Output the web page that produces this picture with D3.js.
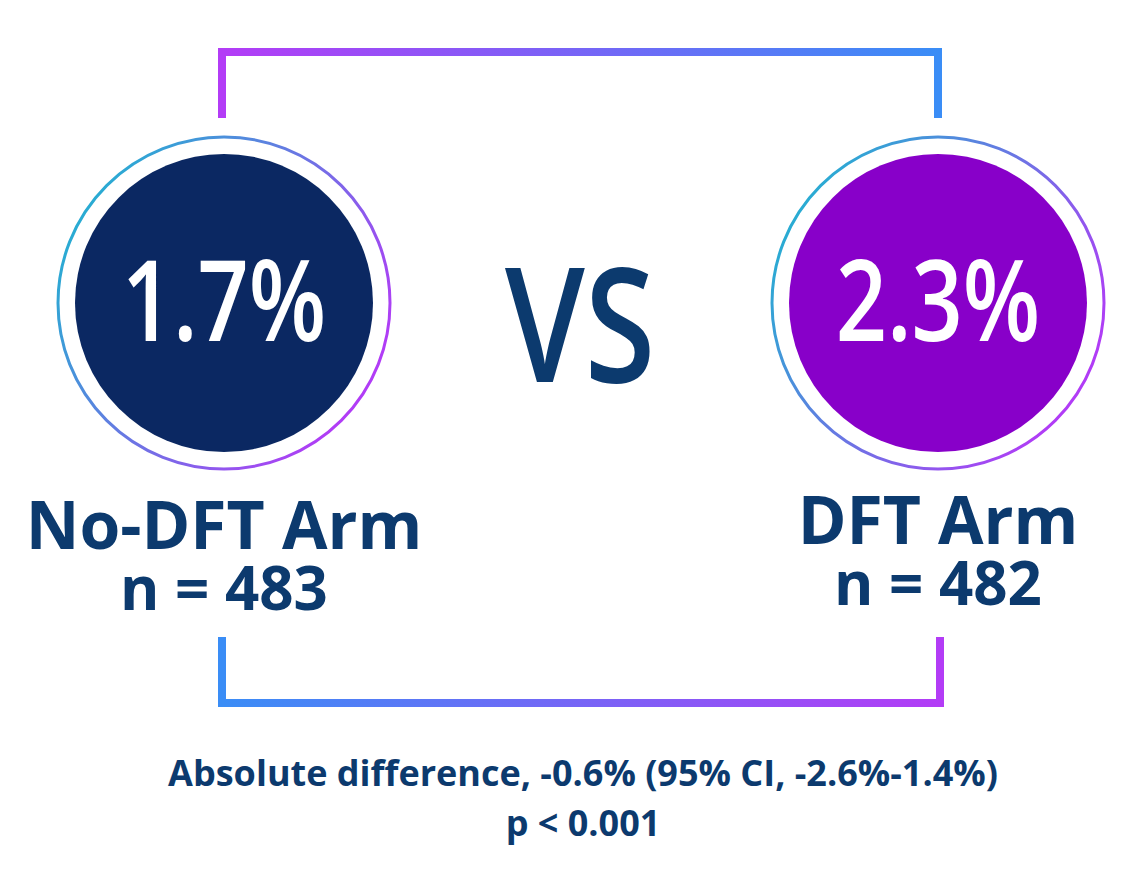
<!DOCTYPE html>
<html><head><meta charset="utf-8">
<script src="https://cdn.jsdelivr.net/npm/d3@7"></script>
<style>body{margin:0;background:#fff}</style></head>
<body><svg id="c" width="1135" height="875"></svg>
<script>
const arms = ["No-DFT Arm","DFT Arm"];
const values = [1.7, 2.3];
const nValues = [483, 482];
const fills = ["#0b2862","#8800c9"];
const footer = ["Absolute difference, -0.6% (95% CI, -2.6%-1.4%)","p < 0.001"];

const svg = d3.select("#c");
const defs = svg.append("defs");
function lg(id, c1, c2, x2="100%", y2="0%"){
  const g = defs.append("linearGradient").attr("id",id).attr("x1","0%").attr("y1","0%").attr("x2",x2).attr("y2",y2);
  g.append("stop").attr("offset","0%").attr("stop-color",c1);
  g.append("stop").attr("offset","100%").attr("stop-color",c2);
}
lg("top","#b33cf6","#3a8df6");
lg("bot","#3a8df6","#b33cf6");
lg("ring","#10c0cc","#b13cf6","100%","60%");

const x = d3.scalePoint().domain(arms).range([224,938]);
const navy = "#0c3a6e";

svg.append("path").attr("d","M222,118V52H938V118").attr("fill","none").attr("stroke","url(#top)").attr("stroke-width",8);
svg.append("path").attr("d","M222,637V703H940V637").attr("fill","none").attr("stroke","url(#bot)").attr("stroke-width",8);

const g = svg.selectAll("g.arm").data(arms).join("g").attr("transform",d=>`translate(${x(d)},303)`);
g.append("circle").attr("r",166).attr("fill","#fff").attr("stroke","url(#ring)").attr("stroke-width",3);
g.append("circle").attr("r",149).attr("fill",(d,i)=>fills[i]);
g.append("text").attr("text-anchor","middle").attr("transform","translate(0,38) scale(0.8,1)").attr("fill","#fff")
  .style("font","600 112px 'Open Sans',sans-serif")
  .text((d,i)=>values[i]+"%");
g.append("text").attr("text-anchor","middle").attr("y",(d,i)=>246-i*5).attr("fill",navy)
  .style("font","bold 66px 'Open Sans',sans-serif").text(d=>d);
g.append("text").attr("text-anchor","middle").attr("y",(d,i)=>307-i*5).attr("fill",navy)
  .style("font","bold 60px 'Open Sans',sans-serif").text((d,i)=>"n = "+nValues[i]);

svg.append("text").attr("text-anchor","middle").attr("transform","translate(580,382) scale(0.8,1)").attr("fill",navy)
  .style("font","600 160px 'Open Sans',sans-serif").text("VS");

svg.selectAll("text.f").data(footer).join("text").attr("x",583).attr("y",(d,i)=>786+i*50)
  .attr("text-anchor","middle").attr("fill",navy).style("font","bold 36px 'Open Sans',sans-serif").text(d=>d);
</script></body></html>
